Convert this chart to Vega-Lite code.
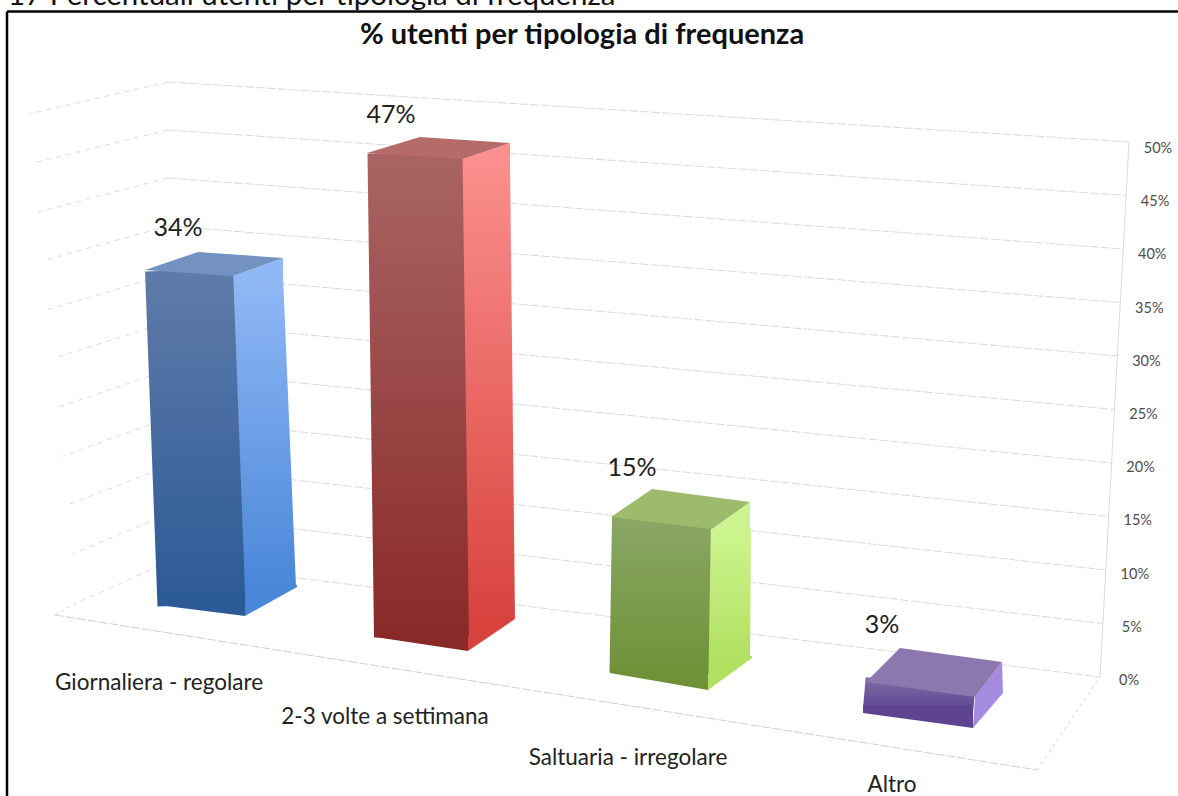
{
"$schema":"https://vega.github.io/schema/vega-lite/v6.json",
"width":1178,"height":796,"padding":0,
"autosize":{"type":"none"},
"background":"white",
"config":{"view":{"stroke":null},"font":"Lato"},
"datasets":{
"frequenze":[
{"ordine":1,"categoria":"Giornaliera - regolare","valore":34,"etichetta":"34%"},
{"ordine":2,"categoria":"2-3 volte a settimana","valore":47,"etichetta":"47%"},
{"ordine":3,"categoria":"Saltuaria - irregolare","valore":15,"etichetta":"15%"},
{"ordine":4,"categoria":"Altro","valore":3,"etichetta":"3%"}],
"livelli":[{"livello":0,"etichetta":"0%"},{"livello":5,"etichetta":"5%"},{"livello":10,"etichetta":"10%"},{"livello":15,"etichetta":"15%"},{"livello":20,"etichetta":"20%"},{"livello":25,"etichetta":"25%"},{"livello":30,"etichetta":"30%"},{"livello":35,"etichetta":"35%"},{"livello":40,"etichetta":"40%"},{"livello":45,"etichetta":"45%"},{"livello":50,"etichetta":"50%"}],
"testi":[{"testo":"17 Percentuali utenti per tipologia di frequenza"}],
"titoli":[{"testo":"% utenti per tipologia di frequenza"}],
"cornice":[{"parte":"cornice"}]
},
"params":[{"name":"facce","value":{
"Giornaliera - regolare":{
"fx1":-6,"fx2":6.5,"fy1":-41.2,"fy2":-70,"fw":88,
"sx1":62,"sx2":75,"sy1":-35.2,"sy2":-88,"sw":52,
"fg":{"gradient":"linear","x1":0,"y1":0,"x2":0,"y2":1,"stops":[{"offset":0,"color":"#5f7ba9"},{"offset":1,"color":"#2c5a96"}]},
"sg":{"gradient":"linear","x1":0,"y1":0,"x2":0,"y2":1,"stops":[{"offset":0,"color":"#90b8f6"},{"offset":1,"color":"#4a87d8"}]},
"cima":"#7392c2","lato":"#90b8f6","fondo":"#2c5a96","fondoL":"#4a87d8",
"pCima":"M-50,-41.2L3,-59.2L88,-53.2L38,-35.2Z",
"pLato":"M38,-35.2L88,-53.2L88,-34.2L38,-34.2Z",
"pF":"M-37,-73L-37,-70L50,-59L50,-73Z",
"pS":"M50,-59L102,-88L102,-90L50,-90Z",
"tx":-17,"ty":-83.2,"cx":-36,"cy":8},
"2-3 volte a settimana":{
"fx1":-21.67,"fx2":-15.17,"fy1":-19.1,"fy2":-38,"fw":95,
"sx1":48.83,"sx2":53.83,"sy1":-13.1,"sy2":-56,"sw":49,
"fg":{"gradient":"linear","x1":0,"y1":0,"x2":0,"y2":1,"stops":[{"offset":0,"color":"#a86564"},{"offset":1,"color":"#8a2a28"}]},
"sg":{"gradient":"linear","x1":0,"y1":0,"x2":0,"y2":1,"stops":[{"offset":0,"color":"#fb8f8d"},{"offset":1,"color":"#d8433e"}]},
"cima":"#b56b69","lato":"#fb8f8d","fondo":"#8a2a28","fondoL":"#d8433e",
"pCima":"M-69.67,-19.1L-16.67,-35.1L73.33,-29.1L26.33,-13.1Z",
"pLato":"M26.33,-13.1L73.33,-29.1L73.33,-12.1L26.33,-12.1Z",
"pF":"M-61.67,-41L-61.67,-38L31.33,-24L31.33,-41Z",
"pS":"M31.33,-24L78.33,-56L78.33,-58L31.33,-58Z",
"tx":-45.67,"ty":-57.1,"cx":-51.67,"cy":42},
"Saltuaria - irregolare":{
"fx1":-16.83,"fx2":-19.33,"fy1":2.5,"fy2":-2,"fw":99,
"sx1":51.67,"sx2":50.67,"sy1":14.5,"sy2":-17,"sw":42,
"fg":{"gradient":"linear","x1":0,"y1":0,"x2":0,"y2":1,"stops":[{"offset":0,"color":"#8aa765"},{"offset":1,"color":"#6f9238"}]},
"sg":{"gradient":"linear","x1":0,"y1":0,"x2":0,"y2":1,"stops":[{"offset":0,"color":"#cdf58f"},{"offset":1,"color":"#b2e060"}]},
"cima":"#9dbb6c","lato":"#cdf58f","fondo":"#6f9238","fondoL":"#b2e060",
"pCima":"M-67.33,2.5L-26.33,-25.5L71.67,-12.5L33.67,14.5Z",
"pLato":"M33.67,14.5L71.67,-12.5L71.67,15.5L33.67,15.5Z",
"pF":"M-68.33,-5L-68.33,-2L29.67,15L29.67,-5Z",
"pS":"M29.67,15L73.67,-17L73.67,-19L29.67,-19Z",
"tx":-46.33,"ty":-46.5,"cx":-50.33,"cy":83},
"Altro":{
"fx1":0.5,"fx2":-2,"fy1":39.1,"fy2":36,"fw":110,
"sx1":68,"sx2":68,"sy1":20,"sy2":20,"sw":0,
"fg":{"gradient":"linear","x1":0,"y1":0,"x2":0,"y2":1,"stops":[{"offset":0,"color":"#7c68a2"},{"offset":1,"color":"#5e4490"}]},
"sg":{"gradient":"linear","x1":0,"y1":0,"x2":0,"y2":1,"stops":[{"offset":0,"color":"#a48be0"},{"offset":1,"color":"#a48be0"}]},
"cima":"#8c77ae","lato":"#a48be0","fondo":"#5e4490","fondoL":"#a48be0",
"pCima":"M-54,39.1L-20,5.1L82,19.1L55,54.1Z",
"pLato":"M55,54.1L82,19.1L83,50.1L53,85.1Z",
"pF":"M-57,30L-57,38L53,53L53,30Z",
"pS":"M0,0Z",
"tx":-38,"ty":-17.9,"cx":-28,"cy":110}
}}],
"layer":[
{"data":{"name":"cornice"},"mark":{"type":"rule","stroke":"#000000","strokeWidth":2.5},
"encoding":{"x":{"datum":0.2221,"type":"quantitative","axis":null,"scale":{"domain":[0.1931,5.0676],"nice":false,"zero":false}},"x2":{"datum":0.2221},
"y":{"datum":62,"type":"quantitative","axis":null,"scale":{"domain":[-11.31,63.08],"nice":false,"zero":false}},"y2":{"datum":-11.31}}},
{"data":{"name":"cornice"},"mark":{"type":"rule","stroke":"#000000","strokeWidth":2.5},
"encoding":{"x":{"datum":0.2221,"type":"quantitative","axis":null},"x2":{"datum":5.0676},
"y":{"datum":62,"type":"quantitative","axis":null},"y2":{"datum":62}}},
{"data":{"name":"livelli"},"mark":{"type":"rule","stroke":"#dadada","strokeWidth":1,"strokeDash":[9,2],
"x2Offset":{"expr":"0.58*datum.livello"},"yOffset":{"expr":"-113+1.1*datum.livello"},"y2Offset":2},
"encoding":{"x":{"datum":0.8883,"type":"quantitative","axis":null},"x2":{"datum":4.7448},
"y":{"field":"livello","type":"quantitative","axis":null},"y2":{"field":"livello"}}},
{"data":{"name":"livelli"},"mark":{"type":"rule","stroke":"#dadada","strokeWidth":1,"strokeDash":[5,5],
"x2Offset":{"expr":"-91-0.96*datum.livello"},
"yOffset":{"expr":"-113+1.1*datum.livello"},"y2Offset":{"expr":"-72+0.92*datum.livello"}},
"encoding":{"x":{"datum":0.8883,"type":"quantitative","axis":null},"x2":{"datum":0.8883},
"y":{"field":"livello","type":"quantitative","axis":null},"y2":{"field":"livello"}}},
{"data":{"name":"cornice"},"mark":{"type":"rule","stroke":"#dadada","strokeWidth":1,"x2Offset":29,"yOffset":2,"y2Offset":2},
"encoding":{"x":{"datum":4.7448,"type":"quantitative","axis":null},"x2":{"datum":4.7448},
"y":{"datum":0,"type":"quantitative","axis":null},"y2":{"datum":50}}},
{"data":{"name":"cornice"},"mark":{"type":"rule","stroke":"#d0d0d0","strokeWidth":1,"strokeDash":[9,2],"yOffset":-60,"y2Offset":95},
"encoding":{"x":{"datum":0.4207,"type":"quantitative","axis":null},"x2":{"datum":4.4841},
"y":{"datum":0,"type":"quantitative","axis":null},"y2":{"datum":0}}},
{"data":{"name":"cornice"},"mark":{"type":"rule","stroke":"#d0d0d0","strokeWidth":1,"strokeDash":[3,4],"yOffset":95,"y2Offset":2},
"encoding":{"x":{"datum":4.4841,"type":"quantitative","axis":null},"x2":{"datum":4.7448},
"y":{"datum":0,"type":"quantitative","axis":null},"y2":{"datum":0}}},
{"data":{"name":"cornice"},"mark":{"type":"rule","stroke":"#d0d0d0","strokeWidth":1,"strokeDash":[3,4],"yOffset":-60,"y2Offset":-72},
"encoding":{"x":{"datum":0.4207,"type":"quantitative","axis":null},"x2":{"datum":0.5117},
"y":{"datum":0,"type":"quantitative","axis":null},"y2":{"datum":0}}},
{"data":{"name":"livelli"},"mark":{"type":"text","fontSize":14.5,"color":"#4d4d4d","align":"center","baseline":"middle","xOffset":{"expr":"29+0.58*datum.livello"},"yOffset":{"expr":"6+0.06*datum.livello"}},
"encoding":{"x":{"datum":4.7448,"type":"quantitative","axis":null},
"y":{"field":"livello","type":"quantitative","axis":null},"text":{"field":"etichetta"}}},
{"data":{"name":"frequenze"},"mark":{"type":"rule","strokeCap":"butt","strokeWidth":{"expr":"facce[datum.categoria].sw"},"stroke":{"expr":"facce[datum.categoria].sg"},
"xOffset":{"expr":"facce[datum.categoria].sx1"},"x2Offset":{"expr":"facce[datum.categoria].sx2"},"yOffset":{"expr":"facce[datum.categoria].sy1"},"y2Offset":{"expr":"facce[datum.categoria].sy2"}},
"encoding":{"x":{"field":"ordine","type":"quantitative","axis":null},"x2":{"field":"ordine"},
"y":{"field":"valore","type":"quantitative","axis":null},"y2":{"datum":0}}},
{"data":{"name":"frequenze"},"mark":{"type":"point","filled":true,"opacity":1,"size":4,"strokeWidth":0,"shape":{"expr":"facce[datum.categoria].pS"},"fill":{"expr":"facce[datum.categoria].fondoL"}},
"encoding":{"x":{"field":"ordine","type":"quantitative","axis":null},"y":{"datum":0,"type":"quantitative","axis":null}}},
{"data":{"name":"frequenze"},"mark":{"type":"point","filled":true,"opacity":1,"size":4,"strokeWidth":0,"shape":{"expr":"facce[datum.categoria].pLato"},"fill":{"expr":"facce[datum.categoria].lato"}},
"encoding":{"x":{"field":"ordine","type":"quantitative","axis":null},"y":{"field":"valore","type":"quantitative","axis":null}}},
{"data":{"name":"frequenze"},"mark":{"type":"rule","strokeCap":"butt","strokeWidth":{"expr":"facce[datum.categoria].fw"},"stroke":{"expr":"facce[datum.categoria].fg"},
"xOffset":{"expr":"facce[datum.categoria].fx1"},"x2Offset":{"expr":"facce[datum.categoria].fx2"},"yOffset":{"expr":"facce[datum.categoria].fy1"},"y2Offset":{"expr":"facce[datum.categoria].fy2"}},
"encoding":{"x":{"field":"ordine","type":"quantitative","axis":null},"x2":{"field":"ordine"},
"y":{"field":"valore","type":"quantitative","axis":null},"y2":{"datum":0}}},
{"data":{"name":"frequenze"},"mark":{"type":"point","filled":true,"opacity":1,"size":4,"strokeWidth":0,"shape":{"expr":"facce[datum.categoria].pF"},"fill":{"expr":"facce[datum.categoria].fondo"}},
"encoding":{"x":{"field":"ordine","type":"quantitative","axis":null},"y":{"datum":0,"type":"quantitative","axis":null}}},
{"data":{"name":"frequenze"},"mark":{"type":"point","filled":true,"opacity":1,"size":4,"strokeWidth":0,"shape":{"expr":"facce[datum.categoria].pCima"},"fill":{"expr":"facce[datum.categoria].cima"}},
"encoding":{"x":{"field":"ordine","type":"quantitative","axis":null},"y":{"field":"valore","type":"quantitative","axis":null}}},
{"data":{"name":"frequenze"},"mark":{"type":"text","fontSize":25,"color":"#222222","align":"center","baseline":"middle","xOffset":{"expr":"facce[datum.categoria].tx"},"yOffset":{"expr":"facce[datum.categoria].ty"}},
"encoding":{"x":{"field":"ordine","type":"quantitative","axis":null},"y":{"field":"valore","type":"quantitative","axis":null},"text":{"field":"etichetta"}}},
{"data":{"name":"frequenze"},"mark":{"type":"text","fontSize":22.5,"color":"#222222","align":"center","baseline":"middle","xOffset":{"expr":"facce[datum.categoria].cx"},"yOffset":{"expr":"facce[datum.categoria].cy"}},
"encoding":{"x":{"field":"ordine","type":"quantitative","axis":null},"y":{"datum":0,"type":"quantitative","axis":null},"text":{"field":"categoria"}}},
{"data":{"name":"titoli"},"mark":{"type":"text","fontSize":29,"fontWeight":"bold","color":"#111111","align":"center","baseline":"middle"},
"encoding":{"x":{"datum":2.6014,"type":"quantitative","axis":null},"y":{"datum":59.8,"type":"quantitative","axis":null},"text":{"field":"testo"}}},
{"data":{"name":"testi"},"mark":{"type":"text","fontSize":29.5,"color":"#111111","align":"left","baseline":"alphabetic"},
"encoding":{"x":{"datum":0.2262,"type":"quantitative","axis":null},"y":{"datum":62.6,"type":"quantitative","axis":null},"text":{"field":"testo"}}}
]}
